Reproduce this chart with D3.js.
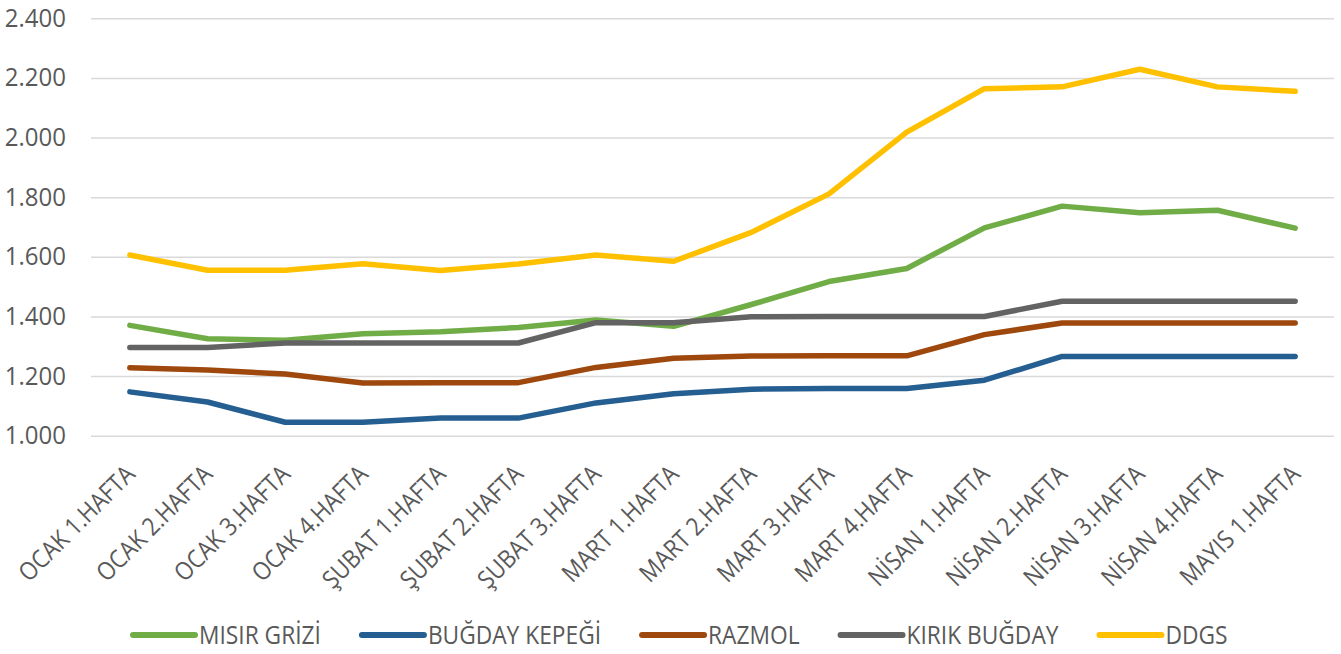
<!DOCTYPE html>
<html>
<head>
<meta charset="utf-8">
<script src="https://cdn.jsdelivr.net/npm/d3@7"></script>
<style>
  body { margin: 0; background: #fff; }
  svg text { font-family: "Open Sans", sans-serif; fill: #595959; }
</style>
</head>
<body>
<svg id="chart" width="1341" height="654"></svg>
<script>
'use strict';

// haftalar
var weeks = ["OCAK 1.HAFTA", "OCAK 2.HAFTA", "OCAK 3.HAFTA", "OCAK 4.HAFTA",
  "ŞUBAT 1.HAFTA", "ŞUBAT 2.HAFTA", "ŞUBAT 3.HAFTA", "MART 1.HAFTA",
  "MART 2.HAFTA", "MART 3.HAFTA", "MART 4.HAFTA", "NİSAN 1.HAFTA",
  "NİSAN 2.HAFTA", "NİSAN 3.HAFTA", "NİSAN 4.HAFTA", "MAYIS 1.HAFTA"];

var misirGrizi   = [1370, 1325, 1320, 1342, 1349, 1363, 1388, 1367, 1440, 1517, 1561, 1697, 1770, 1748, 1756, 1696];
var bugdayKepegi = [1147, 1113, 1045, 1045, 1059, 1059, 1110, 1141, 1156, 1158, 1158, 1186, 1266, 1266, 1266, 1266];
var razmol       = [1228, 1220, 1207, 1177, 1178, 1178, 1229, 1260, 1267, 1268, 1268, 1339, 1378, 1378, 1378, 1378];
var kirikBugday  = [1296, 1296, 1311, 1311, 1311, 1311, 1379, 1379, 1399, 1400, 1400, 1400, 1451, 1451, 1451, 1451];
var ddgs         = [1606, 1555, 1555, 1577, 1554, 1576, 1606, 1585, 1682, 1811, 2018, 2164, 2170, 2229, 2170, 2155];

var yTicks = [1000, 1200, 1400, 1600, 1800, 2000, 2200, 2400];

var seriesNames  = ["MISIR GRİZİ", "BUĞDAY KEPEĞİ", "RAZMOL", "KIRIK BUĞDAY", "DDGS"];
var seriesColors = ["#70AD47", "#255E91", "#9E480E", "#636363", "#FFC000"];

var series = [misirGrizi, bugdayKepegi, razmol, kirikBugday, ddgs].map(function (vals, i) {
  return { name: seriesNames[i], color: seriesColors[i], values: vals };
});

var svg = d3.select("#chart");

var x = d3.scalePoint().domain(weeks).range([91, 1334]).padding(0.5);
var y = d3.scaleLinear().domain([1000, 2400]).range([435.7, 18.3]);

// Calibri gibi dar gorunsun
function narrow(sel, k) {
  sel.each(function () {
    var len = this.getComputedTextLength();
    d3.select(this).attr("textLength", len * k).attr("lengthAdjust", "spacingAndGlyphs");
  });
}

// grid + y etiketleri
var yAxis = svg.append("g")
  .attr("transform", "translate(91,0)")
  .call(d3.axisLeft(y).tickValues(yTicks).tickSize(-1243).tickPadding(25)
    .tickFormat(function (d) { return (d / 1000).toFixed(3); }));
yAxis.select(".domain").remove();
yAxis.selectAll(".tick line").attr("stroke", "#d9d9d9").attr("stroke-width", 1.5);
yAxis.selectAll(".tick text").attr("font-size", 25).attr("fill", "#595959")
  .style("font-family", null);
yAxis.selectAll(".tick text").call(narrow, 0.96);

// x etiketleri
var xAxis = svg.append("g")
  .attr("transform", "translate(0,435.7)")
  .call(d3.axisBottom(x).tickSize(0).tickPadding(0));
xAxis.select(".domain").remove();
xAxis.selectAll(".tick text")
  .attr("font-size", 25)
  .attr("text-anchor", "end")
  .attr("dy", null)
  .attr("y", 0)
  .attr("transform", "translate(6,40) rotate(-45)");
xAxis.selectAll(".tick text").call(narrow, 0.89);

// cizgiler
var line = d3.line()
  .x(function (d, i) { return x(weeks[i]); })
  .y(function (d) { return y(d); });

svg.append("g").selectAll("path")
  .data(series)
  .enter().append("path")
    .attr("d", function (d) { return line(d.values); })
    .attr("fill", "none")
    .attr("stroke", function (d) { return d.color; })
    .attr("stroke-width", 5.5)
    .attr("stroke-linejoin", "round")
    .attr("stroke-linecap", "round");

// lejant
var legend = svg.append("g").attr("transform", "translate(0,635)");
var lx = 133;
series.forEach(function (s) {
  legend.append("line")
    .attr("x1", lx).attr("x2", lx + 62)
    .attr("y1", 0).attr("y2", 0)
    .attr("stroke", s.color).attr("stroke-width", 6)
    .attr("stroke-linecap", "round");
  var t = legend.append("text")
    .attr("x", lx + 66).attr("y", 0)
    .attr("dy", "0.35em")
    .attr("font-size", 25)
    .text(s.name);
  var w = t.node().getComputedTextLength() * 0.91;
  t.attr("textLength", w).attr("lengthAdjust", "spacingAndGlyphs");
  lx += 66 + w + 41;
});
</script>
</body>
</html>
